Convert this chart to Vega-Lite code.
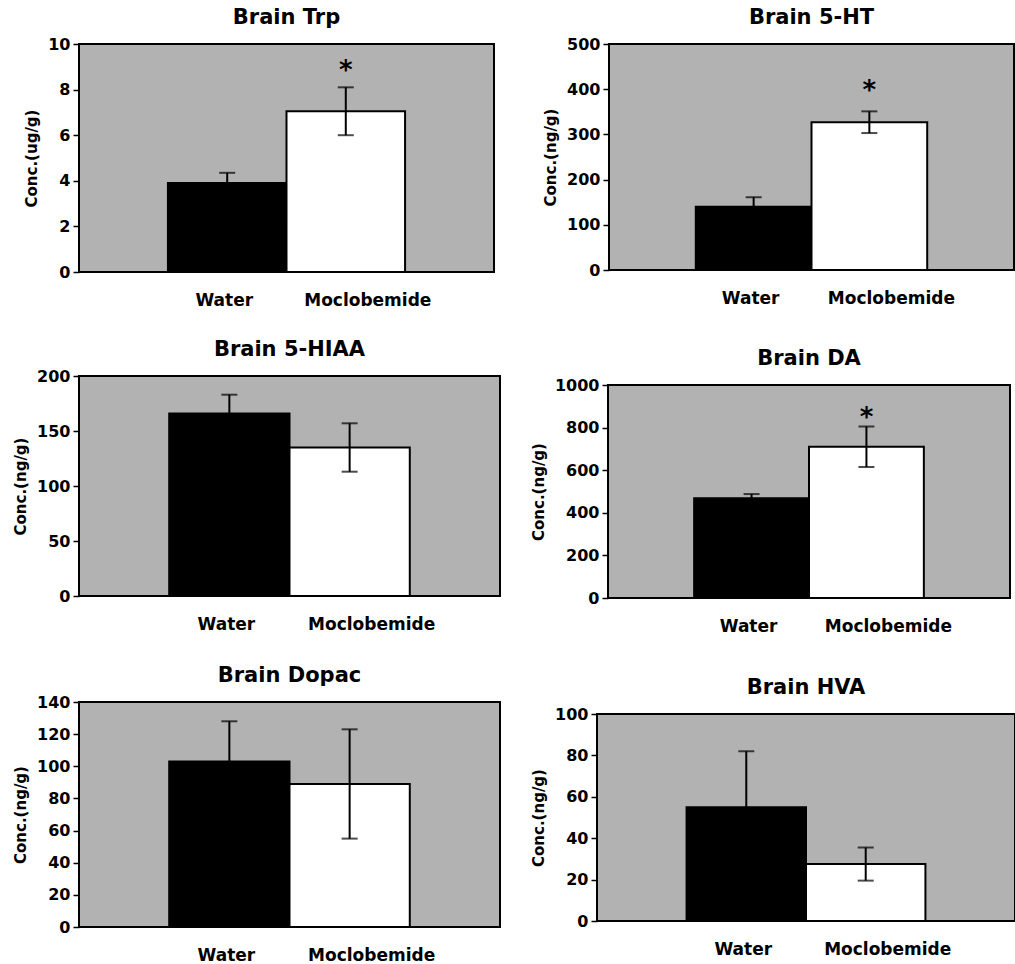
{
  "$schema": "https://vega.github.io/schema/vega-lite/v6.json",
  "background": "white",
  "padding": {"left": 12, "top": 6, "right": 0, "bottom": 0},
  "data": {"values": [
    {"panel": "Trp", "group": "Water", "mean": 3.9, "lo": 3.45, "hi": 4.35, "sig": null, "sigY": null},
    {"panel": "Trp", "group": "Moclobemide", "mean": 7.05, "lo": 6.0, "hi": 8.1, "sig": "*", "sigY": 9.0},
    {"panel": "5-HT", "group": "Water", "mean": 140, "lo": 119, "hi": 161, "sig": null, "sigY": null},
    {"panel": "5-HT", "group": "Moclobemide", "mean": 327, "lo": 303, "hi": 351, "sig": "*", "sigY": 405},
    {"panel": "5-HIAA", "group": "Water", "mean": 166, "lo": 149, "hi": 183, "sig": null, "sigY": null},
    {"panel": "5-HIAA", "group": "Moclobemide", "mean": 135, "lo": 113, "hi": 157, "sig": null, "sigY": null},
    {"panel": "DA", "group": "Water", "mean": 468, "lo": 448, "hi": 488, "sig": null, "sigY": null},
    {"panel": "DA", "group": "Moclobemide", "mean": 710, "lo": 615, "hi": 805, "sig": "*", "sigY": 865},
    {"panel": "Dopac", "group": "Water", "mean": 103, "lo": 78, "hi": 128, "sig": null, "sigY": null},
    {"panel": "Dopac", "group": "Moclobemide", "mean": 89, "lo": 55, "hi": 123, "sig": null, "sigY": null},
    {"panel": "HVA", "group": "Water", "mean": 55, "lo": 28, "hi": 82, "sig": null, "sigY": null},
    {"panel": "HVA", "group": "Moclobemide", "mean": 27.5, "lo": 19.5, "hi": 35.5, "sig": null, "sigY": null}
  ]},
  "spacing": 28,
  "vconcat": [
    {"spacing": 47, "hconcat": [
      {
        "width": 415, "height": 228,
        "title": "Brain Trp",
        "transform": [{"filter": "datum.panel === 'Trp'"}],
        "encoding": {"x": {"field": "group", "type": "nominal", "sort": ["Water", "Moclobemide"], "title": null, "scale": {"type": "band", "paddingInner": 0, "paddingOuter": 0.75}}},
        "layer": [
          {"mark": {"type": "bar", "stroke": "black", "strokeWidth": 2}, "encoding": {"y": {"field": "mean", "type": "quantitative", "title": "Conc.(ug/g)", "scale": {"domain": [0, 10], "nice": false}, "axis": {"values": [0, 2, 4, 6, 8, 10], "tickCount": 12}}, "fill": {"field": "group", "type": "nominal", "scale": {"domain": ["Water", "Moclobemide"], "range": ["black", "white"]}, "legend": null}}},
          {"mark": {"type": "rule", "color": "black", "strokeWidth": 2}, "encoding": {"y": {"field": "lo", "type": "quantitative", "title": "Conc.(ug/g)"}, "y2": {"field": "hi"}}},
          {"mark": {"type": "tick", "color": "black", "thickness": 2, "size": 16}, "encoding": {"y": {"field": "hi", "type": "quantitative", "title": "Conc.(ug/g)"}}},
          {"mark": {"type": "tick", "color": "black", "thickness": 2, "size": 16}, "encoding": {"y": {"field": "lo", "type": "quantitative", "title": "Conc.(ug/g)"}}},
          {"transform": [{"filter": "datum.sig != null"}], "mark": {"type": "text", "font": "DejaVu Sans", "fontWeight": "bold", "fontSize": 26, "baseline": "middle", "dy": 4, "color": "black"}, "encoding": {"y": {"field": "sigY", "type": "quantitative", "title": "Conc.(ug/g)"}, "text": {"field": "sig"}}}
        ]
      },
      {
        "width": 405, "height": 226,
        "title": "Brain 5-HT",
        "transform": [{"filter": "datum.panel === '5-HT'"}],
        "encoding": {"x": {"field": "group", "type": "nominal", "sort": ["Water", "Moclobemide"], "title": null, "scale": {"type": "band", "paddingInner": 0, "paddingOuter": 0.75}}},
        "layer": [
          {"mark": {"type": "bar", "stroke": "black", "strokeWidth": 2}, "encoding": {"y": {"field": "mean", "type": "quantitative", "title": "Conc.(ng/g)", "scale": {"domain": [0, 500], "nice": false}, "axis": {"values": [0, 100, 200, 300, 400, 500], "tickCount": 12}}, "fill": {"field": "group", "type": "nominal", "scale": {"domain": ["Water", "Moclobemide"], "range": ["black", "white"]}, "legend": null}}},
          {"mark": {"type": "rule", "color": "black", "strokeWidth": 2}, "encoding": {"y": {"field": "lo", "type": "quantitative", "title": "Conc.(ng/g)"}, "y2": {"field": "hi"}}},
          {"mark": {"type": "tick", "color": "black", "thickness": 2, "size": 16}, "encoding": {"y": {"field": "hi", "type": "quantitative", "title": "Conc.(ng/g)"}}},
          {"mark": {"type": "tick", "color": "black", "thickness": 2, "size": 16}, "encoding": {"y": {"field": "lo", "type": "quantitative", "title": "Conc.(ng/g)"}}},
          {"transform": [{"filter": "datum.sig != null"}], "mark": {"type": "text", "font": "DejaVu Sans", "fontWeight": "bold", "fontSize": 26, "baseline": "middle", "dy": 4, "color": "black"}, "encoding": {"y": {"field": "sigY", "type": "quantitative", "title": "Conc.(ng/g)"}, "text": {"field": "sig"}}}
        ]
      }
    ]},
    {"spacing": 29, "hconcat": [
      {"spacing": 0, "vconcat": [
        {"width": 10, "height": 1, "data": {"values": []}, "mark": "point", "view": {"fill": null, "stroke": null}},
        {
          "width": 421, "height": 220,
          "title": "Brain 5-HIAA",
          "transform": [{"filter": "datum.panel === '5-HIAA'"}],
          "encoding": {"x": {"field": "group", "type": "nominal", "sort": ["Water", "Moclobemide"], "title": null, "scale": {"type": "band", "paddingInner": 0, "paddingOuter": 0.75}}},
          "layer": [
            {"mark": {"type": "bar", "stroke": "black", "strokeWidth": 2}, "encoding": {"y": {"field": "mean", "type": "quantitative", "title": "Conc.(ng/g)", "scale": {"domain": [0, 200], "nice": false}, "axis": {"values": [0, 50, 100, 150, 200], "tickCount": 12}}, "fill": {"field": "group", "type": "nominal", "scale": {"domain": ["Water", "Moclobemide"], "range": ["black", "white"]}, "legend": null}}},
            {"mark": {"type": "rule", "color": "black", "strokeWidth": 2}, "encoding": {"y": {"field": "lo", "type": "quantitative", "title": "Conc.(ng/g)"}, "y2": {"field": "hi"}}},
            {"mark": {"type": "tick", "color": "black", "thickness": 2, "size": 16}, "encoding": {"y": {"field": "hi", "type": "quantitative", "title": "Conc.(ng/g)"}}},
            {"mark": {"type": "tick", "color": "black", "thickness": 2, "size": 16}, "encoding": {"y": {"field": "lo", "type": "quantitative", "title": "Conc.(ng/g)"}}}
          ]
        }
      ]},
      {"spacing": 0, "vconcat": [
        {"width": 10, "height": 10, "data": {"values": []}, "mark": "point", "view": {"fill": null, "stroke": null}},
        {
          "width": 402, "height": 213,
          "title": "Brain DA",
          "transform": [{"filter": "datum.panel === 'DA'"}],
          "encoding": {"x": {"field": "group", "type": "nominal", "sort": ["Water", "Moclobemide"], "title": null, "scale": {"type": "band", "paddingInner": 0, "paddingOuter": 0.75}}},
          "layer": [
            {"mark": {"type": "bar", "stroke": "black", "strokeWidth": 2}, "encoding": {"y": {"field": "mean", "type": "quantitative", "title": "Conc.(ng/g)", "scale": {"domain": [0, 1000], "nice": false}, "axis": {"values": [0, 200, 400, 600, 800, 1000], "tickCount": 12}}, "fill": {"field": "group", "type": "nominal", "scale": {"domain": ["Water", "Moclobemide"], "range": ["black", "white"]}, "legend": null}}},
            {"mark": {"type": "rule", "color": "black", "strokeWidth": 2}, "encoding": {"y": {"field": "lo", "type": "quantitative", "title": "Conc.(ng/g)"}, "y2": {"field": "hi"}}},
            {"mark": {"type": "tick", "color": "black", "thickness": 2, "size": 16}, "encoding": {"y": {"field": "hi", "type": "quantitative", "title": "Conc.(ng/g)"}}},
            {"mark": {"type": "tick", "color": "black", "thickness": 2, "size": 16}, "encoding": {"y": {"field": "lo", "type": "quantitative", "title": "Conc.(ng/g)"}}},
            {"transform": [{"filter": "datum.sig != null"}], "mark": {"type": "text", "font": "DejaVu Sans", "fontWeight": "bold", "fontSize": 26, "baseline": "middle", "dy": 4, "color": "black"}, "encoding": {"y": {"field": "sigY", "type": "quantitative", "title": "Conc.(ng/g)"}, "text": {"field": "sig"}}}
          ]
        }
      ]}
    ]},
    {"spacing": 29, "hconcat": [
      {"spacing": 0, "vconcat": [
        {"width": 10, "height": 1, "data": {"values": []}, "mark": "point", "view": {"fill": null, "stroke": null}},
        {
          "width": 421, "height": 225,
          "title": "Brain Dopac",
          "transform": [{"filter": "datum.panel === 'Dopac'"}],
          "encoding": {"x": {"field": "group", "type": "nominal", "sort": ["Water", "Moclobemide"], "title": null, "scale": {"type": "band", "paddingInner": 0, "paddingOuter": 0.75}}},
          "layer": [
            {"mark": {"type": "bar", "stroke": "black", "strokeWidth": 2}, "encoding": {"y": {"field": "mean", "type": "quantitative", "title": "Conc.(ng/g)", "scale": {"domain": [0, 140], "nice": false}, "axis": {"values": [0, 20, 40, 60, 80, 100, 120, 140], "tickCount": 12}}, "fill": {"field": "group", "type": "nominal", "scale": {"domain": ["Water", "Moclobemide"], "range": ["black", "white"]}, "legend": null}}},
            {"mark": {"type": "rule", "color": "black", "strokeWidth": 2}, "encoding": {"y": {"field": "lo", "type": "quantitative", "title": "Conc.(ng/g)"}, "y2": {"field": "hi"}}},
            {"mark": {"type": "tick", "color": "black", "thickness": 2, "size": 16}, "encoding": {"y": {"field": "hi", "type": "quantitative", "title": "Conc.(ng/g)"}}},
            {"mark": {"type": "tick", "color": "black", "thickness": 2, "size": 16}, "encoding": {"y": {"field": "lo", "type": "quantitative", "title": "Conc.(ng/g)"}}}
          ]
        }
      ]},
      {"spacing": 0, "vconcat": [
        {"width": 10, "height": 13, "data": {"values": []}, "mark": "point", "view": {"fill": null, "stroke": null}},
        {
          "width": 418, "height": 207,
          "title": "Brain HVA",
          "transform": [{"filter": "datum.panel === 'HVA'"}],
          "encoding": {"x": {"field": "group", "type": "nominal", "sort": ["Water", "Moclobemide"], "title": null, "scale": {"type": "band", "paddingInner": 0, "paddingOuter": 0.75}}},
          "layer": [
            {"mark": {"type": "bar", "stroke": "black", "strokeWidth": 2}, "encoding": {"y": {"field": "mean", "type": "quantitative", "title": "Conc.(ng/g)", "scale": {"domain": [0, 100], "nice": false}, "axis": {"values": [0, 20, 40, 60, 80, 100], "tickCount": 12}}, "fill": {"field": "group", "type": "nominal", "scale": {"domain": ["Water", "Moclobemide"], "range": ["black", "white"]}, "legend": null}}},
            {"mark": {"type": "rule", "color": "black", "strokeWidth": 2}, "encoding": {"y": {"field": "lo", "type": "quantitative", "title": "Conc.(ng/g)"}, "y2": {"field": "hi"}}},
            {"mark": {"type": "tick", "color": "black", "thickness": 2, "size": 16}, "encoding": {"y": {"field": "hi", "type": "quantitative", "title": "Conc.(ng/g)"}}},
            {"mark": {"type": "tick", "color": "black", "thickness": 2, "size": 16}, "encoding": {"y": {"field": "lo", "type": "quantitative", "title": "Conc.(ng/g)"}}}
          ]
        }
      ]}
    ]}
  ],
  "config": {
    "font": "DejaVu Sans",
    "view": {"fill": "#b2b2b2", "stroke": "black", "strokeWidth": 2},
    "title": {"font": "DejaVu Sans", "fontSize": 21, "fontWeight": "bold", "color": "black", "offset": 8},
    "axisY": {"domain": false, "grid": false, "format": "d", "labelOverlap": false, "tickColor": "black", "tickSize": 6, "tickWidth": 1.5, "labelFont": "DejaVu Sans", "labelFontSize": 16, "labelFontWeight": "bold", "labelColor": "black", "labelPadding": 3, "titleFont": "DejaVu Sans", "titleFontSize": 15, "titleFontWeight": "bold", "titleColor": "black", "titlePadding": 8},
    "axisX": {"domain": false, "grid": false, "ticks": false, "labelAngle": 0, "labelFont": "DejaVu Sans", "labelFontSize": 17, "labelFontWeight": "bold", "labelColor": "black", "labelPadding": 20, "labelOffset": {"condition": {"test": "datum.value === 'Moclobemide'", "value": 22}, "value": -3}}
  }
}
